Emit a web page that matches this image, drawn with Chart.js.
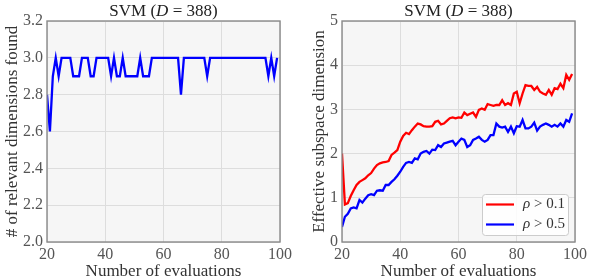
<!DOCTYPE html>
<html><head><meta charset="utf-8">
<script src="https://cdn.jsdelivr.net/npm/chart.js@4.4.0/dist/chart.umd.min.js"></script>
<style>
html,body{margin:0;padding:0;background:#fff;}
#wrap{position:relative;width:590px;height:279px;}
.c{position:absolute;top:0;width:295px;height:279px;}
</style></head>
<body><div id="wrap">
<div class="c" style="left:0"><canvas id="left" width="295" height="279"></canvas></div>
<div class="c" style="left:295px"><canvas id="right" width="295" height="279"></canvas></div>
</div>
<script>
const evaluations = [20,21,22,23,24,25,26,27,28,29,30,31,32,33,34,35,36,37,38,39,40,41,42,43,44,45,46,47,48,49,50,51,52,53,54,55,56,57,58,59,60,61,62,63,64,65,66,67,68,69,70,71,72,73,74,75,76,77,78,79,80,81,82,83,84,85,86,87,88,89,90,91,92,93,94,95,96,97,98,99];
const relevantFound = [2.8,2.6,2.9,3.0,2.9,3.0,3.0,3.0,3.0,2.9,2.9,2.9,3.0,3.0,3.0,2.9,2.9,3.0,3.0,3.0,3.0,3.0,2.9,3.0,2.9,2.9,3.0,2.9,2.9,2.9,2.9,2.9,3.0,2.9,2.9,2.9,3.0,3.0,3.0,3.0,3.0,3.0,3.0,3.0,3.0,3.0,2.8,3.0,3.0,3.0,3.0,3.0,3.0,3.0,3.0,2.9,3.0,3.0,3.0,3.0,3.0,3.0,3.0,3.0,3.0,3.0,3.0,3.0,3.0,3.0,3.0,3.0,3.0,3.0,3.0,3.0,2.9,3.0,2.9,3.0];
const dimRho01 = [2.00,0.85,0.88,1.04,1.17,1.29,1.36,1.40,1.44,1.51,1.56,1.66,1.74,1.78,1.80,1.81,1.83,1.97,2.02,2.08,2.27,2.40,2.47,2.44,2.53,2.61,2.68,2.66,2.62,2.61,2.61,2.62,2.72,2.74,2.66,2.68,2.74,2.80,2.82,2.80,2.82,2.81,2.93,2.87,2.90,2.93,2.83,2.99,3.02,2.99,3.12,3.10,3.08,3.10,3.10,3.21,3.10,3.14,3.10,3.36,3.40,3.14,3.36,3.55,3.53,3.53,3.44,3.51,3.40,3.36,3.33,3.44,3.33,3.48,3.46,3.58,3.48,3.78,3.67,3.80];
const dimRho05 = [0.34,0.57,0.64,0.76,0.78,0.76,0.95,0.89,0.98,1.06,1.08,1.06,1.16,1.17,1.16,1.29,1.29,1.36,1.42,1.50,1.59,1.70,1.79,1.81,1.79,1.89,1.87,2.00,2.04,2.06,2.00,2.09,2.08,2.19,2.15,2.23,2.25,2.27,2.29,2.19,2.27,2.34,2.31,2.15,2.19,2.31,2.34,2.38,2.31,2.27,2.31,2.42,2.42,2.68,2.61,2.59,2.61,2.49,2.61,2.46,2.62,2.61,2.76,2.57,2.57,2.61,2.70,2.52,2.61,2.65,2.68,2.65,2.61,2.65,2.61,2.68,2.61,2.76,2.72,2.91];
const titleParts = [["SVM (", false], ["D", true], [" = 388)", false]];
const xTitle = "Number of evaluations";
const leftYTitle = "# of relevant dimensions found";
const rightYTitle = "Effective subspace dimension";
const legendLabels = [["ρ", " > 0.1"], ["ρ", " > 0.5"]];

const FONT = "'Liberation Serif', 'Times New Roman', serif";

function pts(ys){ return evaluations.map((x,i)=>({x:x, y:ys[i]})); }

const framePlugin = {
  id: 'frame',
  beforeDraw(chart){
    const {ctx, chartArea:a} = chart;
    ctx.save(); ctx.fillStyle = '#f6f6f6';
    ctx.fillRect(a.left, a.top, a.right-a.left, a.bottom-a.top);
    ctx.restore();
  },
  afterDatasetsDraw(chart){
    const {ctx, chartArea:a} = chart;
    ctx.save(); ctx.strokeStyle = '#8a8a8a'; ctx.lineWidth = 1.4;
    ctx.strokeRect(a.left, a.top, a.right-a.left, a.bottom-a.top);
    ctx.restore();
  },
  afterDraw(chart){
    const {ctx, chartArea:a} = chart;
    ctx.save();
    ctx.fillStyle = '#222'; ctx.textBaseline = 'middle';
    const fonts = titleParts.map(p => (p[1] ? 'italic ' : '') + '17px ' + FONT);
    let total = 0;
    const widths = titleParts.map((p,i)=>{ ctx.font = fonts[i]; const w = ctx.measureText(p[0]).width; total += w; return w; });
    let x = (a.left + a.right)/2 - total/2;
    titleParts.forEach((p,i)=>{ ctx.font = fonts[i]; ctx.textAlign='left'; ctx.fillText(p[0], x, 12); x += widths[i]; });
    ctx.restore();
  }
};

const legendPlugin = {
  id: 'boxLegend',
  afterDraw(chart, args, opts){
    if (!opts || !opts.show) return;
    const {ctx, chartArea:a} = chart;
    const w = 86, h = 41;
    const L = a.right - 7 - w, T = a.bottom - 7 - h;
    ctx.save();
    ctx.fillStyle = 'rgba(255,255,255,0.85)'; ctx.strokeStyle = '#cccccc'; ctx.lineWidth = 1;
    ctx.beginPath(); ctx.roundRect(L+0.5, T+0.5, w, h, 3); ctx.fill(); ctx.stroke();
    chart.data.datasets.forEach((ds, i)=>{
      const y = T + 10.5 + i*20;
      ctx.strokeStyle = ds.borderColor; ctx.lineWidth = 2.2;
      ctx.beginPath(); ctx.moveTo(L+4, y); ctx.lineTo(L+32, y); ctx.stroke();
      ctx.fillStyle = '#333'; ctx.textBaseline = 'middle'; ctx.textAlign = 'left';
      ctx.font = 'italic 15px ' + FONT;
      let x = L + 41;
      ctx.fillText(legendLabels[i][0], x, y);
      x += ctx.measureText(legendLabels[i][0]).width;
      ctx.font = '15px ' + FONT;
      ctx.fillText(legendLabels[i][1], x, y);
    });
    ctx.restore();
  }
};

function makeChart(id, datasets, yMin, yMax, yStep, yFmt, yTitle, yTitlePad, showLegend){
  return new Chart(document.getElementById(id), {
    type: 'line',
    data: { datasets: datasets },
    options: {
      responsive: false, animation: false,
      layout: { padding: { top: 21, right: 11, left: 0, bottom: 0 } },
      plugins: { legend: { display: false }, tooltip: { enabled: false }, title: { display: false }, boxLegend: { show: showLegend } },
      elements: { point: { radius: 0 }, line: { tension: 0, borderWidth: 2.3 } },
      scales: {
        x: {
          type: 'linear', min: 20, max: 100,
          afterFit(s){ s.height = 37; },
          ticks: { stepSize: 20, padding: 3, color: '#555', font: { family: FONT, size: 16 }, maxRotation: 0 },
          grid: { color: '#dddddd', lineWidth: 1, drawTicks: false },
          border: { display: false },
          title: { display: true, text: xTitle, color: '#333', font: { family: FONT, size: 17, lineHeight: 1 }, padding: { top: 0, bottom: -1 } }
        },
        y: {
          min: yMin, max: yMax,
          afterFit(s){ s.width = 47; },
          ticks: { stepSize: yStep, padding: 4, color: '#555', font: { family: FONT, size: 16 }, callback: yFmt },
          grid: { color: '#dddddd', lineWidth: 1, drawTicks: false },
          border: { display: false },
          title: { display: true, text: yTitle, color: '#333', font: { family: FONT, size: 17, lineHeight: 1 }, padding: { top: yTitlePad, bottom: 0 } }
        }
      }
    },
    plugins: [framePlugin, legendPlugin]
  });
}

makeChart('left', [
  { label: 'found', data: pts(relevantFound), borderColor: '#0000ff', backgroundColor: '#0000ff', fill: false }
], 2.0, 3.2, 0.2, v => Number(v).toFixed(1), leftYTitle, 4.5, false);

makeChart('right', [
  { label: 'rho > 0.1', data: pts(dimRho01), borderColor: '#ff0000', backgroundColor: '#ff0000', fill: false },
  { label: 'rho > 0.5', data: pts(dimRho05), borderColor: '#0000ff', backgroundColor: '#0000ff', fill: false }
], 0, 5, 1, v => String(v), rightYTitle, 16, true);
</script>
</body></html>
